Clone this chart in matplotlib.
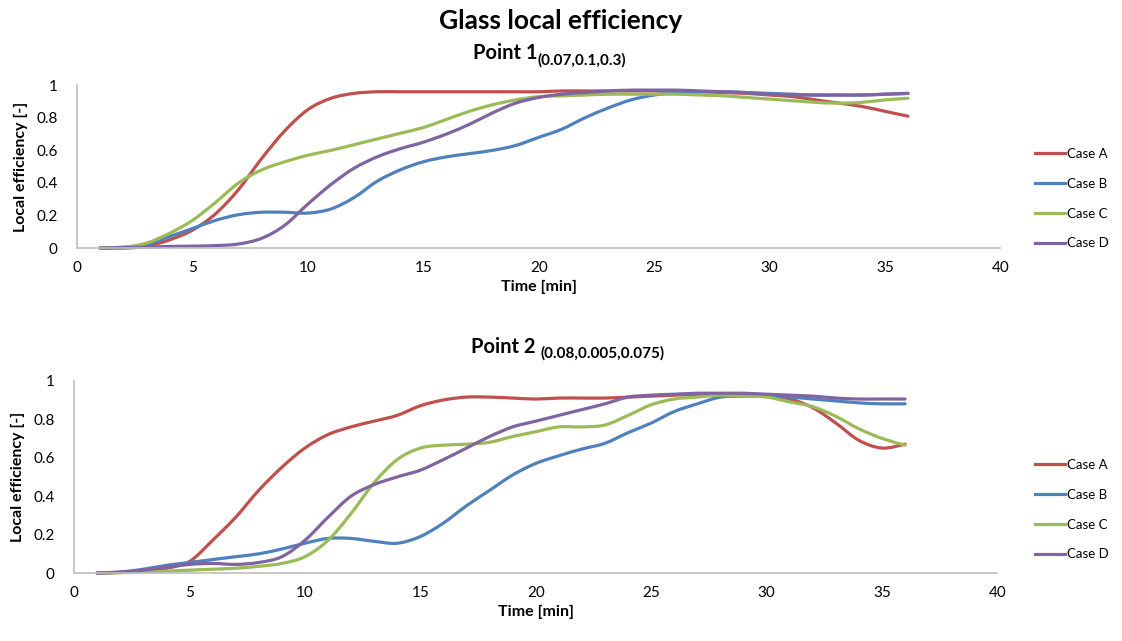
import matplotlib
matplotlib.use('Agg')
import matplotlib.pyplot as plt
from matplotlib.path import Path
from matplotlib.patches import PathPatch
from matplotlib.lines import Line2D

plt.rcParams['font.family'] = ['Lato', 'DejaVu Sans']

# time axis [min]
time = list(range(1, 37))

# Point 1 (0.07,0.1,0.3)
p1_case_a = [0.00, 0.00, 0.01, 0.05, 0.11, 0.21, 0.36, 0.55, 0.72, 0.85, 0.92, 0.95,
             0.96, 0.96, 0.96, 0.96, 0.96, 0.96, 0.96, 0.96, 0.965, 0.965, 0.965, 0.965,
             0.965, 0.96, 0.96, 0.955, 0.95, 0.94, 0.93, 0.91, 0.89, 0.87, 0.84, 0.81]
p1_case_b = [0.00, 0.005, 0.02, 0.07, 0.12, 0.17, 0.205, 0.22, 0.22, 0.215, 0.24, 0.31,
             0.41, 0.48, 0.53, 0.56, 0.58, 0.60, 0.63, 0.68, 0.73, 0.80, 0.86, 0.91,
             0.94, 0.955, 0.96, 0.96, 0.955, 0.95, 0.945, 0.94, 0.94, 0.94, 0.945, 0.95]
p1_case_c = [0.00, 0.005, 0.03, 0.09, 0.17, 0.28, 0.40, 0.48, 0.53, 0.57, 0.60, 0.635,
             0.67, 0.705, 0.74, 0.79, 0.84, 0.88, 0.91, 0.93, 0.935, 0.94, 0.945, 0.945,
             0.945, 0.945, 0.94, 0.935, 0.925, 0.915, 0.905, 0.895, 0.89, 0.895, 0.91, 0.92]
p1_case_d = [0.00, 0.003, 0.005, 0.01, 0.012, 0.015, 0.025, 0.06, 0.14, 0.27, 0.39, 0.49,
             0.56, 0.61, 0.65, 0.70, 0.76, 0.83, 0.89, 0.925, 0.945, 0.955, 0.965, 0.97,
             0.97, 0.97, 0.965, 0.96, 0.955, 0.945, 0.94, 0.94, 0.94, 0.94, 0.945, 0.95]

# Point 2 (0.08,0.005,0.075)
p2_case_a = [0.00, 0.003, 0.01, 0.025, 0.06, 0.17, 0.29, 0.43, 0.55, 0.65, 0.72, 0.76,
             0.79, 0.82, 0.87, 0.90, 0.915, 0.915, 0.91, 0.905, 0.91, 0.91, 0.91, 0.915,
             0.92, 0.925, 0.93, 0.93, 0.925, 0.92, 0.905, 0.86, 0.78, 0.69, 0.65, 0.67]
p2_case_b = [0.00, 0.005, 0.02, 0.04, 0.055, 0.07, 0.085, 0.10, 0.125, 0.155, 0.18, 0.18,
             0.165, 0.155, 0.19, 0.26, 0.35, 0.43, 0.51, 0.57, 0.61, 0.645, 0.675, 0.73,
             0.78, 0.84, 0.88, 0.915, 0.92, 0.92, 0.915, 0.905, 0.895, 0.885, 0.88, 0.88]
p2_case_c = [0.00, 0.002, 0.005, 0.01, 0.015, 0.02, 0.025, 0.035, 0.05, 0.085, 0.17, 0.31,
             0.47, 0.59, 0.65, 0.665, 0.67, 0.68, 0.71, 0.735, 0.76, 0.76, 0.77, 0.82,
             0.875, 0.905, 0.915, 0.925, 0.92, 0.915, 0.89, 0.865, 0.815, 0.75, 0.70, 0.665]
p2_case_d = [0.00, 0.005, 0.015, 0.03, 0.045, 0.05, 0.045, 0.055, 0.085, 0.17, 0.29, 0.40,
             0.46, 0.50, 0.535, 0.59, 0.65, 0.71, 0.76, 0.79, 0.82, 0.85, 0.88, 0.915,
             0.925, 0.93, 0.935, 0.935, 0.935, 0.93, 0.925, 0.92, 0.91, 0.905, 0.905, 0.905]

labels = ['Case A', 'Case B', 'Case C', 'Case D']
colors = ['#C0504D', '#4F81BD', '#9BBB59', '#8064A2']
xticks = [0, 5, 10, 15, 20, 25, 30, 35, 40]
yticks = [0, 0.2, 0.4, 0.6, 0.8, 1]
ytick_labels = ['0', '0.2', '0.4', '0.6', '0.8', '1']


def smooth_path(xs, ys):
    # Excel-style smoothed line: cubic Bezier segments through the data points
    n = len(xs)
    verts = [(xs[0], ys[0])]
    codes = [Path.MOVETO]
    for i in range(n - 1):
        i0 = max(i - 1, 0)
        i3 = min(i + 2, n - 1)
        c1 = (xs[i] + (xs[i + 1] - xs[i0]) / 6, ys[i] + (ys[i + 1] - ys[i0]) / 6)
        c2 = (xs[i + 1] - (xs[i3] - xs[i]) / 6, ys[i + 1] - (ys[i3] - ys[i]) / 6)
        verts += [c1, c2, (xs[i + 1], ys[i + 1])]
        codes += [Path.CURVE4] * 3
    return Path(verts, codes)


def style_axes(ax):
    for s in ['top', 'right']:
        ax.spines[s].set_visible(False)
    for s in ['left', 'bottom']:
        ax.spines[s].set_color('#BFBFBF')
        ax.spines[s].set_linewidth(1.2)
    ax.set_xlim(0, 40)
    ax.set_ylim(0, 1)
    ax.set_xticks(xticks)
    ax.set_yticks(yticks)
    ax.set_yticklabels(ytick_labels)
    ax.tick_params(length=0, labelsize=11, colors='#000000')
    ax.tick_params(axis='y', pad=14)
    ax.tick_params(axis='x', pad=9)
    ax.set_xlabel('Time [min]', fontsize=11.5, fontweight='bold', labelpad=4)
    ax.set_ylabel('Local efficiency [-]', fontsize=11.5, fontweight='bold', labelpad=6)


fig = plt.figure(figsize=(11.22, 6.41), dpi=100)
ax1 = fig.add_axes([0.0686, 0.613, 0.823, 0.254])
ax2 = fig.add_axes([0.066, 0.106, 0.823, 0.300])

for ax, series, leg_y in [(ax1, [p1_case_a, p1_case_b, p1_case_c, p1_case_d], 0.69),
                          (ax2, [p2_case_a, p2_case_b, p2_case_c, p2_case_d], 0.205)]:
    handles = []
    for vals, lab, col in zip(series, labels, colors):
        patch = PathPatch(smooth_path(time, vals), facecolor='none', edgecolor=col,
                          lw=2.3, clip_on=False, joinstyle='round', capstyle='round')
        ax.add_patch(patch)
        handles.append(Line2D([], [], color=col, lw=2.3))
    style_axes(ax)
    fig.legend(handles=handles, labels=labels, loc='center left',
               bbox_to_anchor=(0.912, leg_y), frameon=False, fontsize=9.5,
               handlelength=2.3, handletextpad=0.15, labelspacing=1.35)

fig.text(0.5, 0.967, 'Glass local efficiency', ha='center', va='center',
         fontsize=19, fontweight='bold')
fig.text(0.479, 0.918, 'Point 1', ha='right', va='center', fontsize=14.5, fontweight='bold')
fig.text(0.479, 0.906, '(0.07,0.1,0.3)', ha='left', va='center', fontsize=11, fontweight='bold')
fig.text(0.477, 0.458, 'Point 2', ha='right', va='center', fontsize=14.5, fontweight='bold')
fig.text(0.482, 0.449, '(0.08,0.005,0.075)', ha='left', va='center', fontsize=11, fontweight='bold')

fig.savefig('out.png', dpi=100, facecolor='white')
